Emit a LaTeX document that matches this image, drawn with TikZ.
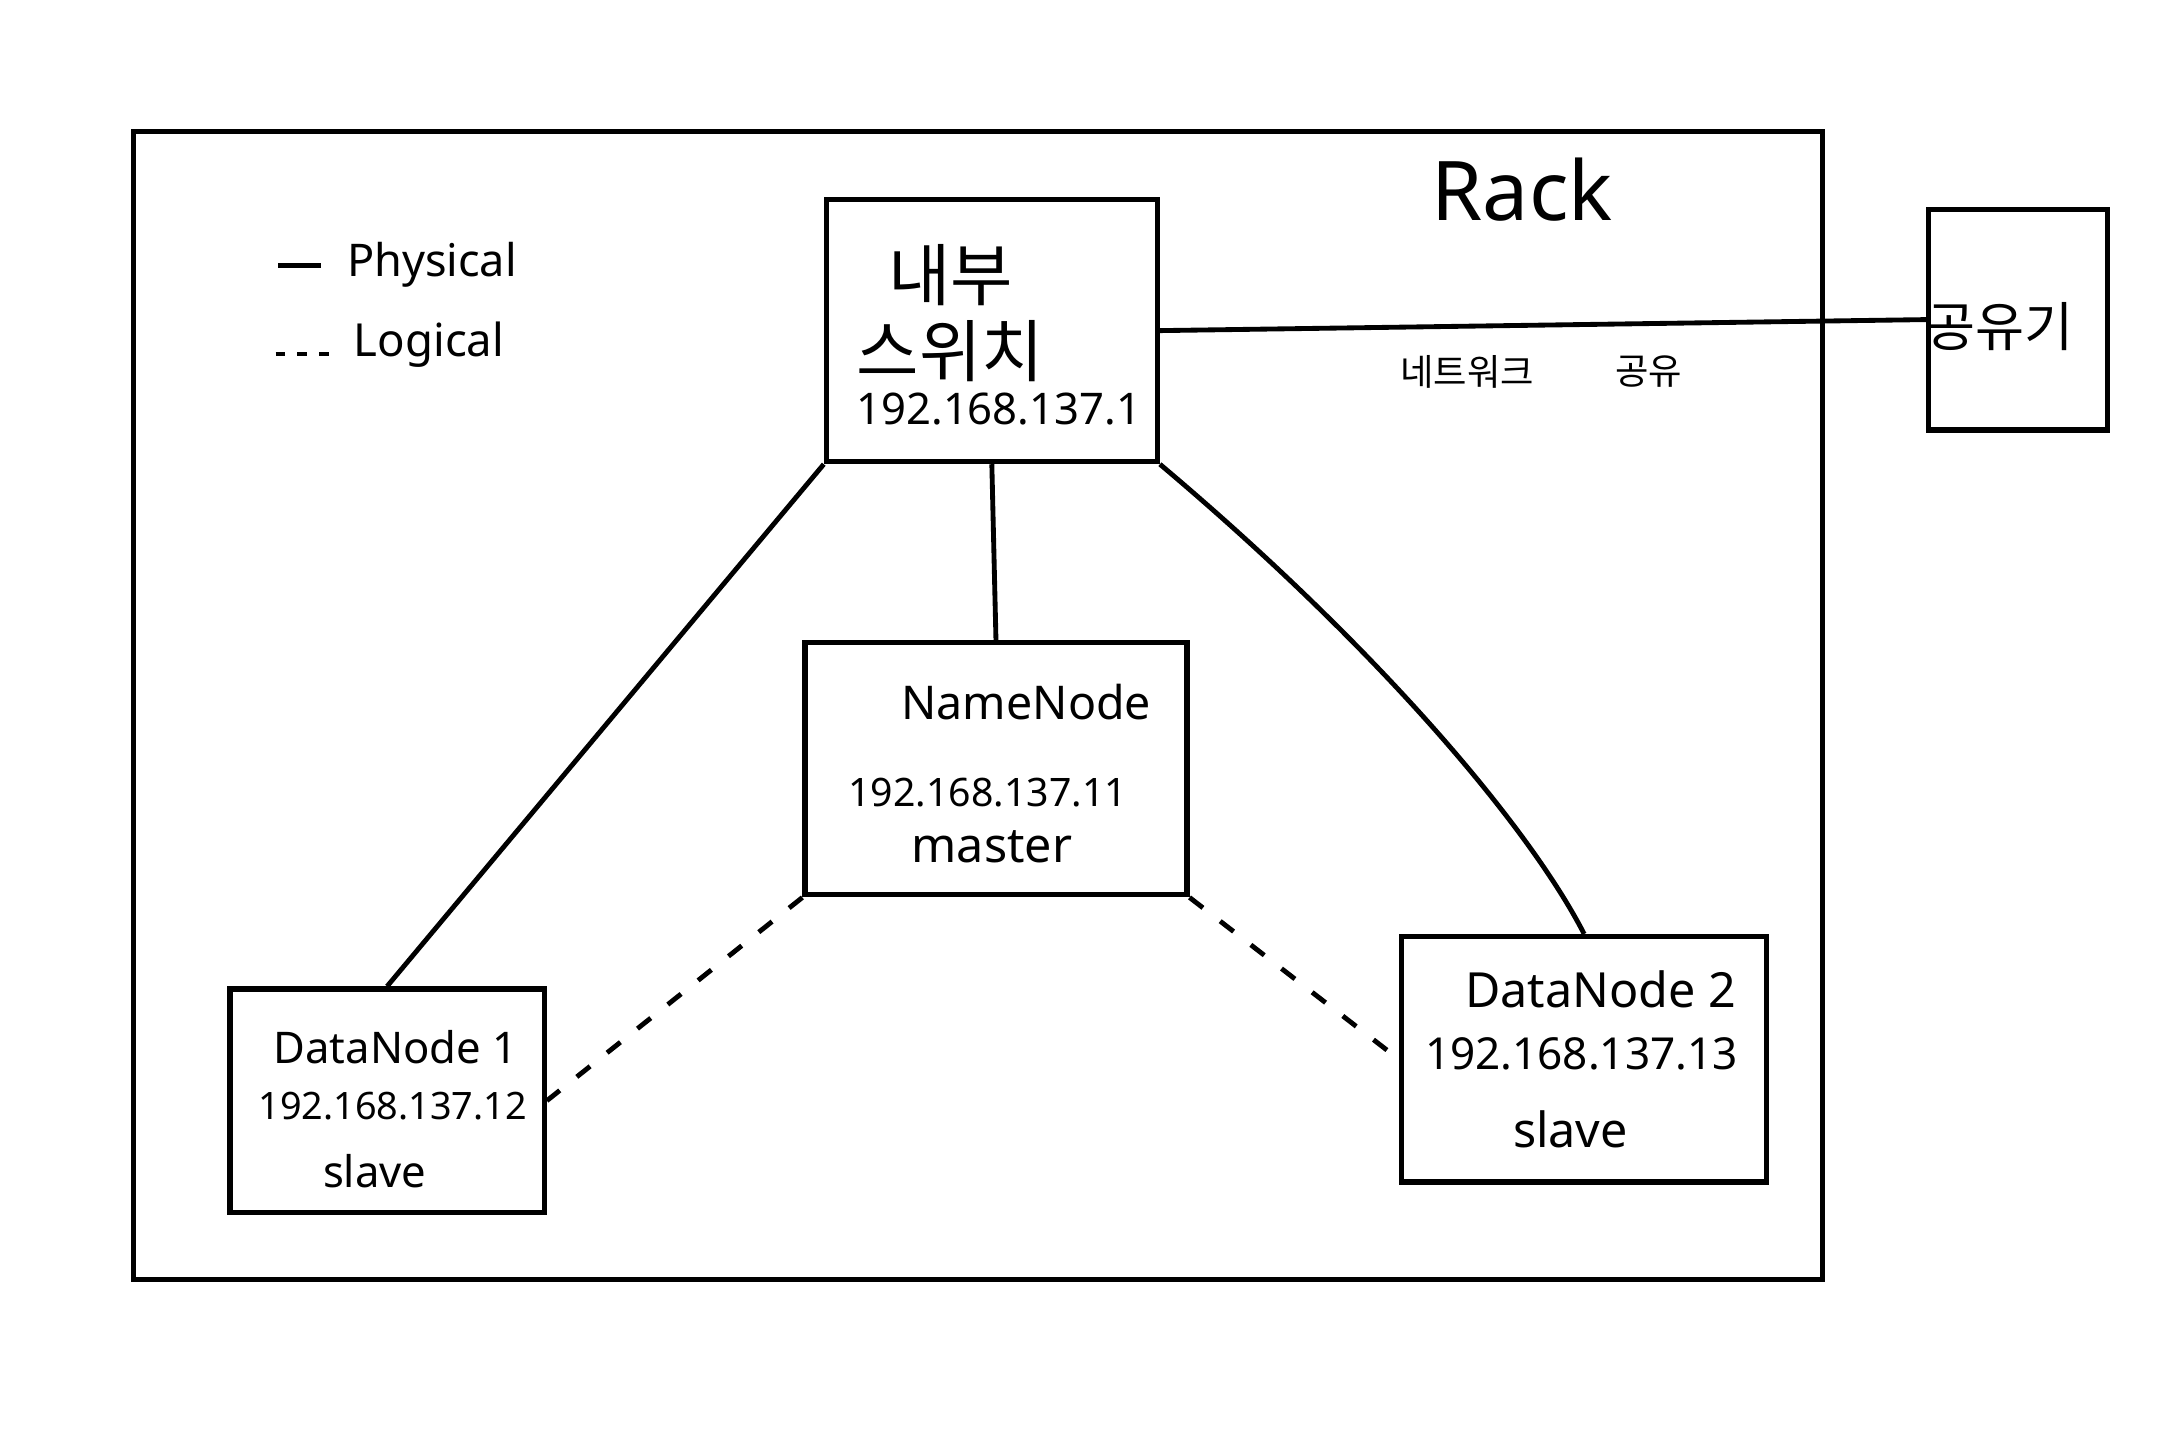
\documentclass[tikz,border=0pt]{standalone}
\usepackage{fontspec}
\setmainfont{Noto Sans}
\newfontfamily\kr{Noto Sans CJK KR}
\begin{document}
\begin{tikzpicture}[x=0.01cm,y=0.01cm,line width=1.1pt,
  box/.style={draw,rectangle,inner sep=0pt},
  lbl/.style={inner sep=0pt,anchor=center},
  phys/.style={line width=1pt},
  logi/.style={line width=1pt,dash pattern=on 3.5pt off 4.5pt}]
\useasboundingbox (0,0) rectangle (1568,-1045);
% boxes
\node[box,minimum width=12.25cm,minimum height=8.33cm] (rack) at (710,-512) {};
\node[box,minimum width=2.4cm,minimum height=1.9cm] (sw) at (720,-240) {};
\node[box,minimum width=1.3cm,minimum height=1.6cm] (router) at (1465,-232) {};
\node[box,minimum width=2.77cm,minimum height=1.83cm] (nn) at (723,-558) {};
\node[box,minimum width=2.28cm,minimum height=1.62cm] (dn1) at (281,-799) {};
\node[box,minimum width=2.65cm,minimum height=1.78cm] (dn2) at (1150,-769) {};
% labels
\node[lbl,font=\fontsize{17}{20}\selectfont] (racklbl) at (1105,-138) {Rack};
\node[lbl,font=\fontsize{9.3}{12}\selectfont,anchor=west] (physlbl) at (250,-192) {Physical};
\node[lbl,font=\fontsize{9.4}{12}\selectfont,anchor=west] (logilbl) at (255,-250) {Logical};
\coordinate (p1) at (202,-193);
\coordinate (p2) at (233,-193);
\coordinate (l1) at (200,-257);
\coordinate (l2) at (242,-257);
\draw[phys] (p1) -- (p2);
\draw[line width=1pt,dash pattern=on 2pt off 2.5pt] (l1) -- (l2);
\node[lbl,font=\kr\fontsize{14}{16}\selectfont] (sw1) at (690,-200) {내부};
\node[lbl,font=\kr\fontsize{14}{16}\selectfont] (sw2) at (690,-255) {스위치};
\node[lbl,font=\fontsize{9}{11}\selectfont] (sw3) at (725,-297) {192.168.137.1};
\node[lbl,font=\kr\fontsize{11}{13}\selectfont] (rt) at (1452,-237) {공유기};
\node[lbl,font=\kr\fontsize{7.5}{9}\selectfont] (net1) at (1065,-270) {네트워크};
\node[lbl,font=\kr\fontsize{7.5}{9}\selectfont] (net2) at (1197,-270) {공유};
\node[lbl,font=\fontsize{9.6}{12}\selectfont] (nn1) at (745,-510) {NameNode};
\node[lbl,font=\fontsize{8.1}{11}\selectfont] (nn2) at (717,-575) {192.168.137.11};
\node[lbl,font=\fontsize{10}{12}\selectfont] (nn3) at (720,-615) {master};
\node[lbl,font=\fontsize{9}{12}\selectfont] (d11) at (287,-760) {DataNode 1};
\node[lbl,font=\fontsize{7.8}{11}\selectfont] (d12) at (285,-803) {192.168.137.12};
\node[lbl,font=\fontsize{9}{11}\selectfont] (d13) at (272,-850) {slave};
\node[lbl,font=\fontsize{10}{12}\selectfont] (d21) at (1162,-718) {DataNode 2};
\node[lbl,font=\fontsize{9.1}{11}\selectfont] (d22) at (1148,-765) {192.168.137.13};
\node[lbl,font=\fontsize{10}{12}\selectfont] (d23) at (1140,-820) {slave};
% connectors
\draw[phys] (sw.east) -- (router.west);
\draw[phys] (sw.south) -- (nn.north);
\draw[phys] (sw.south west) -- (dn1.north);
\draw[phys] (sw.south east) .. controls (1000,-470) and (1110,-600) .. (dn2.north);
\draw[logi] (nn.south west) -- (dn1.east);
\draw[logi] (nn.south east) -- (dn2.west);
\end{tikzpicture}
\end{document}
